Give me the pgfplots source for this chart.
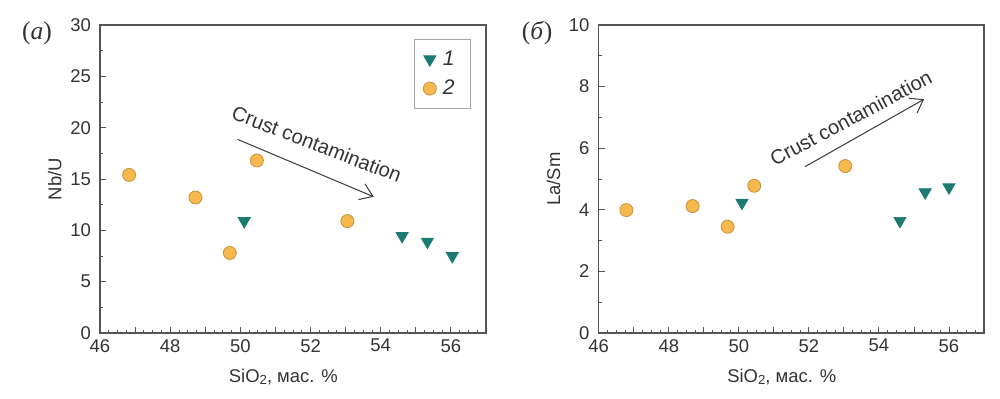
\documentclass[border=0pt]{standalone}
\usepackage{fontspec}
\setmainfont{Liberation Sans}
\newfontfamily\labserif{Liberation Serif}
\usepackage{pgfplots}
\pgfplotsset{compat=1.18}
\usetikzlibrary{arrows.meta}
\definecolor{teal1}{HTML}{1B7A72}
\definecolor{orange1}{HTML}{F7B84E}
\definecolor{orangeedge}{HTML}{C9953F}
\definecolor{axgray}{HTML}{555555}
\definecolor{txt}{HTML}{333333}
\pgfplotsset{myaxis/.style={
  scale only axis, width=77.2mm, height=61.6mm,
  xmin=46, xmax=57, ymin=0,
  tick pos=left, tick align=inside,
  major tick length=1.2mm, minor tick length=0.6mm,
  axis line style={axgray, line width=0.6pt},
  every tick/.style={axgray, line width=0.5pt},
  xtick={46,...,57}, xticklabels={46,,48,,50,,52,,54,,56,},
  minor x tick num=3, minor y tick num=1,
  tick label style={font=\fontsize{10.5}{12}\selectfont, text=txt},
  yticklabel style={xshift=-0.6mm},
  /pgf/number format/assume math mode=true,
  label style={font=\fontsize{10.5}{12}\selectfont, text=txt},
  xlabel={SiO{\fontsize{7.5}{8}\selectfont\raisebox{-0.35ex}{2}}, мас. \%},
  xlabel style={at={(axis description cs:0.475,-0.143)}, anchor=center},
  ylabel style={at={(axis description cs:-0.117,0.5)}, anchor=center},
  clip=false,
}}
\begin{document}
\begin{tikzpicture}[x=1mm,y=1mm]
\useasboundingbox (0,0) rectangle (200,79.6);
\begin{axis}[myaxis, at={(20mm,13mm)}, anchor=south west,
  ymax=30, ytick={0,5,...,30}, ylabel={Nb/U},
  legend style={at={(axis description cs:0.961,0.955)}, anchor=north east,
    draw=gray!70, font=\fontsize{12}{13}\selectfont\itshape, text=txt,
    row sep=1.0mm, inner xsep=1.7mm, inner ysep=1.6mm},
  legend cell align=left]
\addplot[only marks, mark=triangle*, mark size=4pt, color=teal1, mark options={rotate=180, fill=teal1, draw=teal1}]
  coordinates {(50.11,10.9) (54.61,9.45) (55.33,8.9) (56.04,7.5)};
\addlegendentry{\hspace*{0.6mm}1\hspace*{0.8mm}}
\addplot[only marks, mark=*, mark size=3.7pt, mark options={fill=orange1, draw=orangeedge, line width=0.5pt}]
  coordinates {(46.83,15.4) (48.72,13.2) (49.7,7.8) (50.47,16.8) (53.05,10.9)};
\addlegendentry{\hspace*{0.6mm}2\hspace*{0.8mm}}
\draw[black!75, line width=0.6pt, -{Straight Barb[length=2.4mm, width=3.4mm]}]
  (axis cs:49.92,18.86) -- (axis cs:53.8,13.27);
\node[rotate=-21, font=\fontsize{11.5}{13}\selectfont, text=txt] at (axis cs:52.18,18.4) {Crust contamination};
\end{axis}
\begin{axis}[myaxis, at={(119.74mm,13mm)}, anchor=south west, width=77.06mm,
  ymax=10, ytick={0,2,...,10}, ylabel={La/Sm}]
\addplot[only marks, mark=triangle*, mark size=4pt, color=teal1, mark options={rotate=180, fill=teal1, draw=teal1}]
  coordinates {(50.09,4.23) (54.6,3.64) (55.32,4.57) (56.0,4.73)};
\addplot[only marks, mark=*, mark size=3.7pt, mark options={fill=orange1, draw=orangeedge, line width=0.5pt}]
  coordinates {(46.79,3.99) (48.68,4.12) (49.68,3.45) (50.44,4.78) (53.04,5.42)};
\draw[black!75, line width=0.6pt, -{Straight Barb[length=2.4mm, width=3.4mm]}]
  (axis cs:51.89,5.4) -- (axis cs:55.29,7.59);
\node[rotate=28, font=\fontsize{11.5}{13}\selectfont, text=txt] at (axis cs:53.2,6.98) {Crust contamination};
\end{axis}
\node[text=txt] at (7.4,73) {\labserif\fontsize{14.5}{16}\selectfont (\textit{а})};
\node[text=txt] at (107.4,73) {\labserif\fontsize{14.5}{16}\selectfont (\textit{б})};
\end{tikzpicture}
\end{document}
